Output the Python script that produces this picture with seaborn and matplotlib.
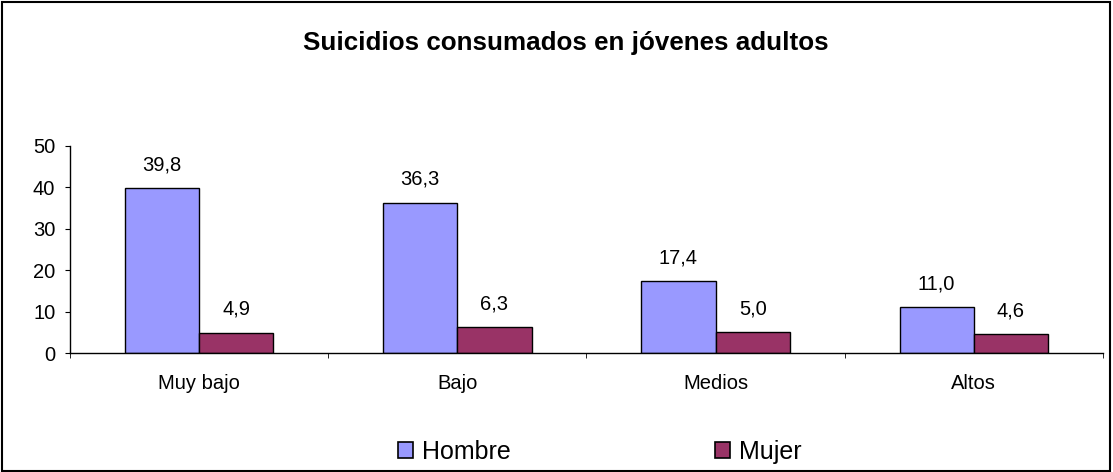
import pandas as pd
import seaborn as sns
import matplotlib.pyplot as plt
from matplotlib.patches import Rectangle

# datos
niveles = ['Muy bajo', 'Bajo', 'Medios', 'Altos']
hombre = [39.8, 36.3, 17.4, 11.0]
mujer = [4.9, 6.3, 5.0, 4.6]
sexos = ['Hombre', 'Mujer']
colores = {'Hombre': '#9999FF', 'Mujer': '#993366'}

df = pd.DataFrame({'Nivel': niveles * 2,
                   'Sexo': ['Hombre'] * 4 + ['Mujer'] * 4,
                   'Valor': hombre + mujer})

sns.set_style('white')
plt.rcParams['font.family'] = ['Liberation Sans', 'DejaVu Sans']
plt.rcParams['text.color'] = 'black'
plt.rcParams['xtick.color'] = 'black'
plt.rcParams['ytick.color'] = 'black'

fig = plt.figure(figsize=(11.13, 4.72), dpi=100)
ax = fig.add_axes([0.0629, 0.252, 0.928, 0.439])
sns.barplot(data=df, x='Nivel', y='Valor', hue='Sexo', palette=colores, width=0.575,
            edgecolor='black', linewidth=1, saturation=1, ax=ax, legend=False)

for cont in ax.containers:
    ax.bar_label(cont, labels=[f'{v:.1f}'.replace('.', ',') for v in cont.datavalues],
                 padding=10, fontsize=14.5)

ax.set_ylim(0, 50)
ax.set_yticks([0, 10, 20, 30, 40, 50])
ax.set_xlim(-0.5, 3.5)
ax.set_xticks([-0.5, 0.5, 1.5, 2.5, 3.5], minor=True)
ax.tick_params(axis='x', which='major', length=0, pad=15, labelsize=14.5)
ax.tick_params(axis='x', which='minor', length=3.6, direction='out', bottom=True)
ax.tick_params(axis='y', length=3.6, direction='out', left=True, labelsize=14.5, pad=7)
ax.set_xlabel('')
ax.set_ylabel('')
for s in ['top', 'right']:
    ax.spines[s].set_visible(False)
for s in ['left', 'bottom']:
    ax.spines[s].set_color('black')
    ax.spines[s].set_linewidth(1)

fig.suptitle('Suicidios consumados en jóvenes adultos', x=0.508, y=0.935, fontsize=18.7, fontweight='bold')

handles = [Rectangle((0, 0), 1, 1, facecolor=colores[s], edgecolor='black', linewidth=1.2) for s in sexos]
fig.legend(handles, sexos, loc='center', bbox_to_anchor=(0.539, 0.042), ncol=2, frameon=False,
           fontsize=18, columnspacing=8.2, handlelength=0.6, handleheight=0.6, handletextpad=0.35)

fig.add_artist(Rectangle((0.002, 0.003), 0.995, 0.993, transform=fig.transFigure,
                         fill=False, edgecolor='black', linewidth=1.5))

fig.savefig('out.png', dpi=100)
